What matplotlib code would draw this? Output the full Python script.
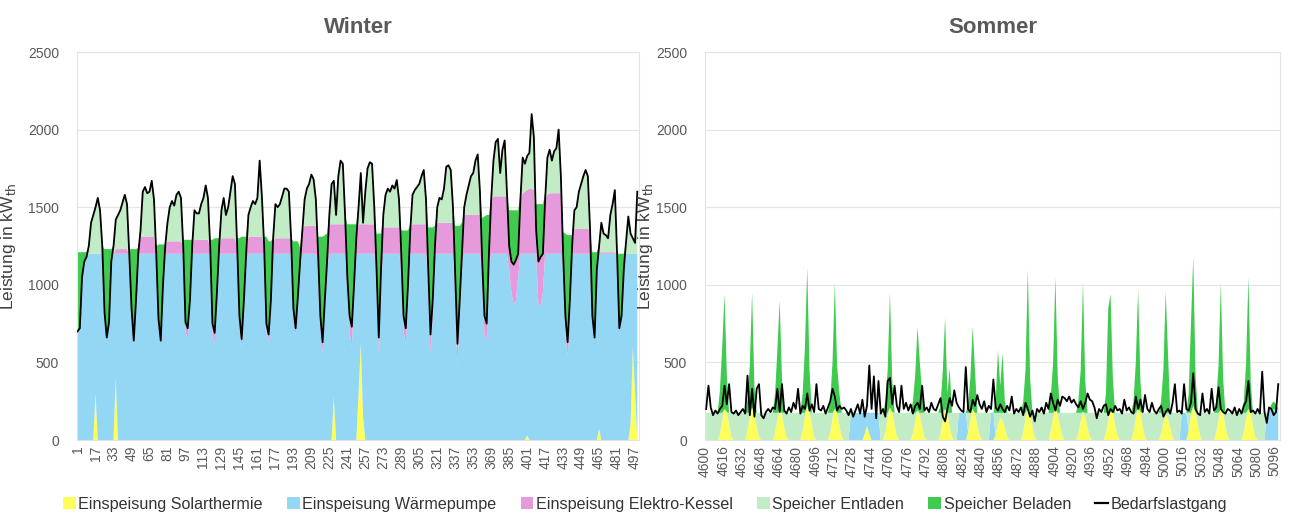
import matplotlib
matplotlib.use("Agg")
import matplotlib.pyplot as plt
import numpy as np
from matplotlib.lines import Line2D
from matplotlib.patches import Patch

plt.rcParams['font.family'] = ['Liberation Sans', 'DejaVu Sans']

# ---------------- Winter (hours 1..499, every 2nd hour) ----------------
winter_hours = np.arange(1, 500, 2)

winter_demand = [
    700, 720, 1050, 1150, 1180, 1250, 1400, 1450, 1500, 1560, 1480, 1250,
    820, 660, 760, 1150, 1250, 1420, 1450, 1480, 1530, 1580, 1520, 1200,
    850, 640, 900, 1200, 1350, 1600, 1630, 1590, 1600, 1670, 1550, 1200,
    780, 640, 1000, 1250, 1400, 1500, 1540, 1510, 1580, 1600, 1560, 1250,
    760, 720, 900, 1250, 1480, 1460, 1460, 1520, 1560, 1640, 1560, 1250,
    750, 690, 950, 1250, 1480, 1560, 1450, 1500, 1600, 1700, 1650, 1250,
    800, 650, 900, 1200, 1450, 1500, 1540, 1520, 1560, 1800, 1570, 1250,
    750, 680, 900, 1300, 1520, 1500, 1520, 1570, 1620, 1620, 1600, 1300,
    850, 720, 920, 1150, 1350, 1550, 1620, 1650, 1710, 1680, 1550, 1200,
    800, 630, 900, 1150, 1450, 1650, 1670, 1450, 1700, 1800, 1780, 1450,
    1050, 800, 730, 1000, 1300, 1500, 1720, 1400, 1600, 1750, 1790, 1780,
    1500, 1100, 660, 1100, 1450, 1580, 1620, 1600, 1640, 1620, 1675, 1550,
    1200, 800, 720, 1000, 1350, 1580, 1610, 1630, 1650, 1700, 1740, 1550,
    1100, 680, 900, 1250, 1500, 1560, 1550, 1620, 1760, 1770, 1740, 1500,
    1050, 620, 900, 1200, 1500, 1580, 1640, 1700, 1720, 1800, 1840, 1600,
    1150, 800, 750, 1200, 1550, 1800, 1920, 1940, 1720, 1870, 1930, 1600,
    1250, 1150, 1130, 1160, 1200, 1550, 1820, 1780, 1830, 1850, 2100, 1950,
    1350, 1150, 1180, 1200, 1550, 1820, 1870, 1800, 1860, 1880, 2000, 1700,
    1200, 800, 630, 900, 1250, 1480, 1500, 1600, 1650, 1700, 1740, 1700,
    1350, 800, 660, 1100, 1250, 1400, 1330, 1320, 1300, 1450, 1520, 1610,
    1200, 720, 800, 1100, 1280, 1440, 1330, 1300, 1270, 1600,
]

winter_solar = [
    0, 0, 0, 0, 0, 0, 0, 0, 300, 0, 0, 0,
    0, 0, 0, 0, 0, 400, 0, 0, 0, 0, 0, 0,
    0, 0, 0, 0, 0, 0, 0, 0, 0, 0, 0, 0,
    0, 0, 0, 0, 0, 0, 0, 0, 0, 0, 0, 0,
    0, 0, 0, 0, 0, 0, 0, 0, 0, 0, 0, 0,
    0, 0, 0, 0, 0, 0, 0, 0, 0, 0, 0, 0,
    0, 0, 0, 0, 0, 0, 0, 0, 0, 0, 0, 0,
    0, 0, 0, 0, 0, 0, 0, 0, 0, 0, 0, 0,
    0, 0, 0, 0, 0, 0, 0, 0, 0, 0, 0, 0,
    0, 0, 0, 0, 0, 0, 280, 0, 0, 0, 0, 0,
    0, 0, 0, 0, 0, 300, 620, 150, 0, 0, 0, 0,
    0, 0, 0, 0, 0, 0, 0, 0, 0, 0, 0, 0,
    0, 0, 0, 0, 0, 0, 0, 0, 0, 0, 0, 0,
    0, 0, 0, 0, 0, 0, 0, 0, 0, 0, 0, 0,
    0, 0, 0, 0, 0, 0, 0, 0, 0, 0, 0, 0,
    0, 0, 0, 0, 0, 0, 0, 0, 0, 0, 0, 0,
    0, 0, 0, 0, 0, 0, 0, 0, 30, 0, 0, 0,
    0, 0, 0, 0, 0, 0, 0, 0, 0, 0, 0, 0,
    0, 0, 0, 0, 0, 0, 0, 0, 0, 0, 0, 0,
    0, 0, 0, 0, 70, 0, 0, 0, 0, 0, 0, 0,
    0, 0, 0, 0, 0, 0, 100, 600, 300, 0,
]

winter_wp = [
    700, 720, 1050, 1150, 1180, 1200, 1200, 1200, 900, 1200, 1200, 1200,
    820, 660, 760, 1150, 1200, 800, 1200, 1200, 1200, 1200, 1200, 1200,
    850, 640, 900, 1200, 1200, 1200, 1200, 1200, 1200, 1200, 1200, 1200,
    780, 640, 1000, 1200, 1200, 1200, 1200, 1200, 1200, 1200, 1200, 1200,
    700, 650, 850, 1200, 1200, 1200, 1200, 1200, 1200, 1200, 1200, 1200,
    690, 620, 900, 1200, 1200, 1200, 1200, 1200, 1200, 1200, 1200, 1200,
    740, 590, 850, 1150, 1200, 1200, 1200, 1200, 1200, 1200, 1200, 1200,
    700, 630, 860, 1200, 1200, 1200, 1200, 1200, 1200, 1200, 1200, 1200,
    800, 670, 880, 1120, 1200, 1200, 1200, 1200, 1200, 1200, 1200, 1150,
    740, 560, 850, 1100, 1200, 1200, 920, 1200, 1200, 1200, 1200, 1200,
    950, 700, 600, 900, 1200, 900, 580, 1050, 1200, 1200, 1200, 1200,
    1200, 1000, 560, 1000, 1200, 1200, 1200, 1200, 1200, 1200, 1200, 1200,
    1100, 700, 620, 900, 1200, 1200, 1200, 1200, 1200, 1200, 1200, 1200,
    1000, 560, 800, 1200, 1200, 1200, 1200, 1200, 1200, 1200, 1200, 1200,
    950, 470, 800, 1130, 1200, 1200, 1200, 1200, 1200, 1200, 1200, 1200,
    1050, 680, 640, 1100, 1200, 1200, 1200, 1200, 1200, 1200, 1200, 1200,
    1100, 950, 870, 900, 1050, 1200, 1200, 1200, 1170, 1200, 1200, 1200,
    1200, 870, 870, 950, 1200, 1200, 1200, 1200, 1200, 1200, 1200, 1200,
    1100, 680, 540, 820, 1200, 1200, 1200, 1200, 1200, 1200, 1200, 1200,
    1200, 800, 660, 1100, 1130, 1200, 1200, 1200, 1200, 1200, 1200, 1200,
    1200, 720, 800, 1100, 1200, 1200, 1100, 600, 900, 1200,
]

winter_elektro = [
    0, 0, 0, 0, 0, 0, 0, 0, 0, 0, 0, 0,
    0, 0, 0, 0, 0, 30, 30, 30, 30, 30, 30, 0,
    0, 0, 0, 0, 110, 110, 110, 110, 110, 110, 110, 0,
    0, 0, 0, 50, 80, 80, 80, 80, 80, 80, 80, 50,
    60, 70, 50, 50, 90, 90, 90, 90, 90, 90, 90, 50,
    60, 70, 50, 50, 100, 100, 100, 100, 100, 100, 100, 50,
    60, 60, 50, 50, 110, 110, 110, 110, 110, 110, 110, 50,
    50, 50, 40, 80, 100, 100, 100, 100, 100, 100, 100, 100,
    50, 50, 40, 30, 150, 180, 180, 180, 180, 180, 180, 50,
    60, 70, 50, 50, 190, 190, 190, 190, 190, 190, 190, 190,
    100, 100, 130, 100, 100, 190, 190, 190, 190, 190, 190, 190,
    190, 100, 100, 100, 170, 170, 170, 170, 170, 170, 170, 170,
    100, 100, 100, 100, 150, 190, 190, 190, 190, 190, 190, 190,
    100, 120, 100, 50, 200, 200, 200, 200, 200, 200, 200, 200,
    100, 150, 100, 70, 250, 250, 250, 250, 250, 250, 250, 250,
    100, 120, 110, 100, 350, 370, 370, 370, 370, 370, 370, 370,
    150, 200, 260, 260, 150, 350, 390, 400, 410, 420, 420, 410,
    150, 280, 310, 250, 350, 380, 390, 390, 390, 390, 390, 390,
    100, 120, 90, 80, 50, 160, 160, 160, 160, 160, 160, 160,
    150, 0, 0, 0, 10, 10, 10, 10, 10, 10, 10, 10,
    0, 0, 0, 0, 0, 0, 0, 0, 0, 0,
]

winter_entladen = [
    0, 0, 0, 0, 0, 50, 200, 250, 300, 360, 280, 50,
    0, 0, 0, 0, 50, 190, 220, 250, 300, 350, 290, 0,
    0, 0, 0, 0, 40, 290, 320, 280, 290, 360, 240, 0,
    0, 0, 0, 0, 120, 220, 260, 230, 300, 320, 280, 0,
    0, 0, 0, 0, 190, 170, 170, 230, 270, 350, 270, 0,
    0, 0, 0, 0, 180, 260, 150, 200, 300, 400, 350, 0,
    0, 0, 0, 0, 140, 190, 230, 210, 250, 490, 260, 0,
    0, 0, 0, 20, 220, 200, 220, 270, 320, 320, 300, 0,
    0, 0, 0, 0, 0, 170, 240, 270, 330, 300, 170, 0,
    0, 0, 0, 0, 60, 260, 280, 60, 310, 410, 390, 60,
    0, 0, 0, 0, 0, 110, 330, 10, 210, 360, 400, 390,
    110, 0, 0, 0, 80, 210, 250, 230, 270, 250, 305, 180,
    0, 0, 0, 0, 0, 190, 220, 240, 260, 310, 350, 160,
    0, 0, 0, 0, 100, 160, 150, 220, 360, 370, 340, 100,
    0, 0, 0, 0, 50, 130, 190, 250, 270, 350, 390, 150,
    0, 0, 0, 0, 0, 230, 350, 370, 150, 300, 360, 30,
    0, 0, 0, 0, 0, 0, 230, 180, 220, 230, 480, 340,
    0, 0, 0, 0, 0, 240, 280, 210, 270, 290, 410, 110,
    0, 0, 0, 0, 0, 120, 140, 240, 290, 340, 380, 340,
    0, 0, 0, 0, 40, 190, 120, 110, 90, 240, 310, 400,
    0, 0, 0, 0, 80, 240, 130, 100, 70, 400,
]

winter_beladen = [
    510, 490, 160, 60, 30, 0, 0, 0, 0, 0, 0, 0,
    410, 570, 470, 80, 0, 0, 0, 0, 0, 0, 0, 30,
    380, 590, 330, 40, 0, 0, 0, 0, 0, 0, 0, 50,
    480, 620, 260, 10, 0, 0, 0, 0, 0, 0, 0, 40,
    530, 570, 390, 40, 0, 0, 0, 0, 0, 0, 0, 40,
    540, 610, 350, 50, 0, 0, 0, 0, 0, 0, 0, 50,
    500, 660, 410, 110, 0, 0, 0, 0, 0, 0, 0, 60,
    560, 600, 380, 0, 0, 0, 0, 0, 0, 0, 0, 0,
    430, 560, 360, 90, 30, 0, 0, 0, 0, 0, 0, 110,
    510, 680, 420, 180, 0, 0, 0, 0, 0, 0, 0, 0,
    340, 590, 660, 390, 90, 0, 0, 0, 0, 0, 0, 0,
    0, 230, 670, 230, 0, 0, 0, 0, 0, 0, 0, 0,
    150, 550, 630, 350, 40, 0, 0, 0, 0, 0, 0, 0,
    270, 690, 470, 130, 0, 0, 0, 0, 0, 0, 0, 0,
    330, 760, 480, 200, 0, 0, 0, 0, 0, 0, 0, 0,
    280, 640, 700, 250, 10, 0, 0, 0, 0, 0, 0, 0,
    230, 330, 350, 320, 280, 30, 0, 0, 0, 0, 0, 0,
    170, 370, 340, 320, 40, 0, 0, 0, 0, 0, 0, 0,
    140, 530, 690, 420, 70, 0, 0, 0, 0, 0, 0, 0,
    0, 410, 550, 110, 0, 0, 0, 0, 0, 0, 0, 0,
    0, 480, 400, 100, 0, 0, 0, 0, 0, 0,
]

# ---------------- Sommer (hours 4601..5099, every 2nd hour) ----------------
summer_hours = np.arange(4601, 5100, 2)

summer_demand = [
    200, 350, 210, 160, 190, 170, 200, 220, 350, 230, 360, 180,
    170, 190, 160, 180, 200, 170, 415, 160, 330, 150, 330, 360,
    160, 140, 180, 200, 180, 210, 200, 330, 180, 360, 190, 170,
    210, 180, 240, 200, 330, 170, 220, 200, 300, 190, 230, 180,
    360, 200, 190, 220, 170, 210, 250, 330, 280, 190, 220, 200,
    210, 190, 160, 200, 150, 190, 230, 170, 260, 150, 220, 480,
    200, 410, 140, 380, 170, 200, 150, 380, 400, 230, 350, 220,
    180, 350, 200, 240, 190, 230, 170, 220, 240, 200, 350, 190,
    210, 180, 240, 200, 190, 230, 270, 150, 120, 200, 270, 220,
    320, 240, 210, 190, 180, 470, 200, 180, 260, 220, 290, 230,
    200, 250, 180, 220, 200, 390, 210, 190, 230, 200, 180, 220,
    190, 280, 170, 200, 180, 210, 160, 240, 200, 150, 190, 120,
    200, 180, 210, 170, 240, 200, 300, 240, 190, 260, 220, 280,
    270, 250, 280, 240, 260, 230, 210, 250, 200, 240, 300, 260,
    250, 210, 140, 200, 180, 220, 230, 160, 200, 180, 220, 190,
    200, 170, 260, 190, 210, 180, 170, 280, 200, 260, 180, 290,
    200, 180, 240, 190, 170, 200, 220, 150, 180, 200, 170, 240,
    360, 180, 190, 170, 360, 200, 190, 240, 430, 200, 170, 160,
    300, 180, 200, 170, 330, 190, 210, 340, 200, 180, 170, 200,
    190, 170, 210, 160, 200, 170, 220, 250, 380, 180, 190, 170,
    200, 170, 440, 180, 110, 210, 200, 160, 180, 360,
]

summer_solar = [
    0, 0, 0, 0, 0, 0, 40, 120, 200, 180, 100, 20,
    0, 0, 0, 0, 0, 0, 60, 140, 210, 170, 90, 20,
    0, 0, 0, 0, 0, 0, 50, 130, 190, 160, 80, 20,
    0, 0, 0, 0, 0, 0, 60, 150, 220, 180, 100, 20,
    0, 0, 0, 0, 0, 0, 50, 140, 200, 170, 90, 20,
    0, 0, 0, 0, 0, 0, 0, 0, 0, 40, 90, 40,
    0, 0, 0, 0, 0, 0, 50, 140, 210, 180, 100, 30,
    0, 0, 0, 0, 0, 0, 40, 120, 190, 160, 90, 20,
    0, 0, 0, 0, 0, 0, 40, 130, 200, 170, 90, 20,
    0, 0, 0, 0, 0, 0, 50, 130, 200, 170, 100, 30,
    0, 0, 0, 0, 0, 0, 30, 100, 140, 130, 80, 20,
    0, 0, 0, 0, 0, 0, 50, 140, 210, 170, 90, 20,
    0, 0, 0, 0, 0, 0, 60, 140, 200, 170, 90, 30,
    0, 0, 0, 0, 0, 0, 40, 120, 180, 150, 80, 20,
    0, 0, 0, 0, 0, 0, 50, 130, 200, 170, 100, 30,
    0, 0, 0, 0, 0, 0, 50, 140, 210, 180, 90, 20,
    0, 0, 0, 0, 0, 0, 40, 110, 160, 140, 80, 20,
    0, 0, 0, 0, 0, 0, 60, 150, 220, 180, 100, 30,
    0, 0, 0, 0, 0, 0, 50, 130, 200, 170, 90, 20,
    0, 0, 0, 0, 0, 0, 50, 140, 200, 170, 90, 20,
    0, 0, 0, 0, 0, 0, 0, 0, 0, 0,
]

summer_wp = [
    0, 0, 0, 0, 0, 0, 0, 0, 0, 0, 0, 0,
    0, 0, 0, 0, 0, 0, 0, 0, 0, 0, 0, 0,
    0, 0, 0, 0, 0, 0, 0, 0, 0, 0, 0, 0,
    0, 0, 0, 0, 0, 0, 0, 0, 0, 0, 0, 0,
    0, 0, 0, 0, 0, 0, 0, 0, 0, 0, 0, 0,
    0, 0, 0, 175, 175, 175, 175, 175, 175, 135, 85, 135,
    175, 175, 175, 175, 0, 0, 0, 0, 0, 0, 0, 0,
    0, 0, 0, 0, 0, 0, 0, 0, 0, 0, 0, 0,
    0, 0, 0, 0, 0, 0, 0, 0, 0, 0, 0, 0,
    0, 0, 175, 175, 175, 175, 0, 0, 0, 0, 0, 0,
    0, 0, 0, 0, 175, 175, 0, 0, 0, 0, 0, 0,
    0, 0, 0, 0, 0, 0, 0, 0, 0, 0, 0, 0,
    0, 0, 0, 0, 0, 0, 0, 0, 0, 0, 0, 0,
    0, 0, 0, 0, 0, 0, 0, 0, 0, 0, 0, 0,
    0, 0, 0, 0, 0, 0, 0, 0, 0, 0, 0, 0,
    0, 0, 0, 0, 0, 0, 0, 0, 0, 0, 0, 0,
    0, 0, 0, 0, 0, 0, 0, 0, 0, 0, 0, 0,
    0, 0, 0, 175, 175, 175, 0, 0, 0, 0, 0, 0,
    0, 0, 0, 0, 0, 0, 0, 0, 0, 0, 0, 0,
    0, 0, 0, 0, 0, 0, 0, 0, 0, 0, 0, 0,
    0, 0, 0, 0, 175, 190, 200, 200, 190, 200,
]

summer_entladen = [
    175, 175, 175, 175, 175, 175, 135, 55, 0, 0, 75, 155,
    175, 175, 175, 175, 175, 175, 115, 35, 0, 5, 85, 155,
    175, 175, 175, 175, 175, 175, 125, 45, 0, 15, 95, 155,
    175, 175, 175, 175, 175, 175, 115, 25, 0, 0, 75, 155,
    175, 175, 175, 175, 175, 175, 125, 35, 0, 5, 85, 155,
    175, 175, 175, 0, 0, 0, 0, 0, 0, 0, 0, 0,
    0, 0, 0, 0, 175, 175, 125, 35, 0, 0, 75, 145,
    175, 175, 175, 175, 175, 175, 135, 55, 0, 15, 85, 155,
    175, 175, 175, 175, 175, 175, 135, 45, 0, 5, 85, 155,
    175, 175, 0, 0, 0, 0, 125, 45, 0, 5, 75, 145,
    175, 175, 175, 175, 0, 0, 145, 75, 35, 45, 95, 155,
    175, 175, 175, 175, 175, 175, 125, 35, 0, 5, 85, 155,
    175, 175, 175, 175, 175, 175, 115, 35, 0, 5, 85, 145,
    175, 175, 175, 175, 175, 175, 135, 55, 0, 25, 95, 155,
    175, 175, 175, 175, 175, 175, 125, 45, 0, 5, 75, 145,
    175, 175, 175, 175, 175, 175, 125, 35, 0, 0, 85, 155,
    175, 175, 175, 175, 175, 175, 135, 65, 15, 35, 95, 155,
    175, 175, 175, 0, 0, 0, 115, 25, 0, 0, 75, 145,
    175, 175, 175, 175, 175, 175, 125, 45, 0, 5, 85, 155,
    175, 175, 175, 175, 175, 175, 125, 35, 0, 5, 85, 155,
    175, 175, 175, 175, 0, 0, 0, 0, 0, 0,
]

summer_beladen = [
    0, 0, 0, 0, 0, 0, 145, 425, 740, 240, 0, 0,
    0, 0, 0, 0, 0, 0, 85, 305, 740, 175, 0, 0,
    0, 0, 0, 0, 0, 0, 125, 405, 710, 225, 0, 0,
    0, 0, 0, 0, 0, 0, 125, 425, 890, 270, 0, 0,
    0, 0, 0, 0, 0, 0, 75, 325, 810, 305, 125, 0,
    0, 0, 0, 0, 0, 0, 0, 0, 0, 0, 0, 0,
    0, 0, 0, 0, 0, 0, 75, 275, 740, 200, 0, 0,
    0, 0, 0, 0, 0, 0, 75, 245, 540, 325, 125, 0,
    0, 0, 0, 0, 0, 0, 45, 275, 590, 125, 285, 0,
    0, 0, 0, 0, 0, 0, 55, 225, 530, 275, 0, 0,
    0, 0, 0, 0, 0, 0, 75, 405, 175, 385, 75, 0,
    0, 0, 0, 0, 0, 0, 75, 275, 890, 225, 0, 0,
    0, 0, 0, 0, 0, 0, 105, 325, 850, 245, 0, 0,
    0, 0, 0, 0, 0, 0, 75, 275, 830, 205, 0, 0,
    0, 0, 0, 0, 0, 0, 125, 675, 740, 225, 0, 0,
    0, 0, 0, 0, 0, 0, 75, 325, 760, 200, 0, 0,
    0, 0, 0, 0, 0, 0, 75, 275, 785, 385, 0, 0,
    0, 0, 0, 0, 0, 0, 125, 575, 960, 240, 0, 0,
    0, 0, 0, 0, 0, 0, 75, 305, 810, 225, 0, 0,
    0, 0, 0, 0, 0, 0, 75, 325, 850, 205, 0, 0,
    0, 0, 0, 0, 0, 0, 30, 50, 40, 0,
]
summer_elektro = [0] * len(summer_hours)

labels = ['Einspeisung Solarthermie', 'Einspeisung Wärmepumpe',
          'Einspeisung Elektro-Kessel', 'Speicher Entladen', 'Speicher Beladen']
colors = ['#FFFF5A', '#93D7F5', '#E69ADB', '#C2ECC5', '#40CA50']
txt_col = '#595959'

fig = plt.figure(figsize=(12.9, 5.14), dpi=100)
ax_w = fig.add_axes([77 / 1290, 74 / 514, 562 / 1290, 388 / 514])
ax_s = fig.add_axes([705 / 1290, 74 / 514, 575 / 1290, 388 / 514])


def draw_panel(ax, x, series, demand, title, xticks, xlim, ylab_x):
    ax.stackplot(x, *series, colors=colors, linewidth=0, zorder=2)
    ax.plot(x, demand, color='black', lw=1.3, zorder=3)
    ax.set_xlim(*xlim)
    ax.set_ylim(0, 2500)
    ax.set_yticks(range(0, 2501, 500))
    ax.set_xticks(xticks)
    ax.set_xticklabels([str(t) for t in xticks], rotation=90)
    ax.grid(axis='y', color='#E6E6E6', lw=0.9)
    ax.set_axisbelow(True)
    for sp in ax.spines.values():
        sp.set_color('#E3E3E3')
        sp.set_linewidth(0.8)
    ax.tick_params(axis='y', length=0, pad=13, labelsize=10, labelcolor=txt_col)
    ax.tick_params(axis='x', length=0, pad=4, labelsize=10, labelcolor=txt_col)
    ax.set_ylabel('Leistung in kW$_{\\mathrm{th}}$', fontsize=12.5, color='#404040')
    ax.yaxis.set_label_coords(ylab_x, 0.5)
    ax.set_title(title, fontsize=16, fontweight='bold', color=txt_col, pad=14)


draw_panel(ax_w, winter_hours,
           [winter_solar, winter_wp, winter_elektro, winter_entladen, winter_beladen],
           winter_demand, 'Winter', np.arange(1, 500, 16), (0.5, 500.5),
           (18 - 77) / 562)
draw_panel(ax_s, summer_hours,
           [summer_solar, summer_wp, summer_elektro, summer_entladen, summer_beladen],
           summer_demand, 'Sommer', np.arange(4600, 5100, 16), (4600, 5100.5),
           (655 - 705) / 575)

handles = [Patch(facecolor=c, edgecolor='none') for c in colors]
handles.append(Line2D([0], [0], color='black', lw=1.6))
fig.legend(handles, labels + ['Bedarfslastgang'], loc='center', ncol=6,
           bbox_to_anchor=(0.5, 10 / 514), frameon=False, fontsize=11.6,
           handlelength=0.8, handleheight=0.8, handletextpad=0.15,
           columnspacing=1.5, labelcolor='#333333')

fig.savefig('out.png', dpi=100, facecolor='white')
